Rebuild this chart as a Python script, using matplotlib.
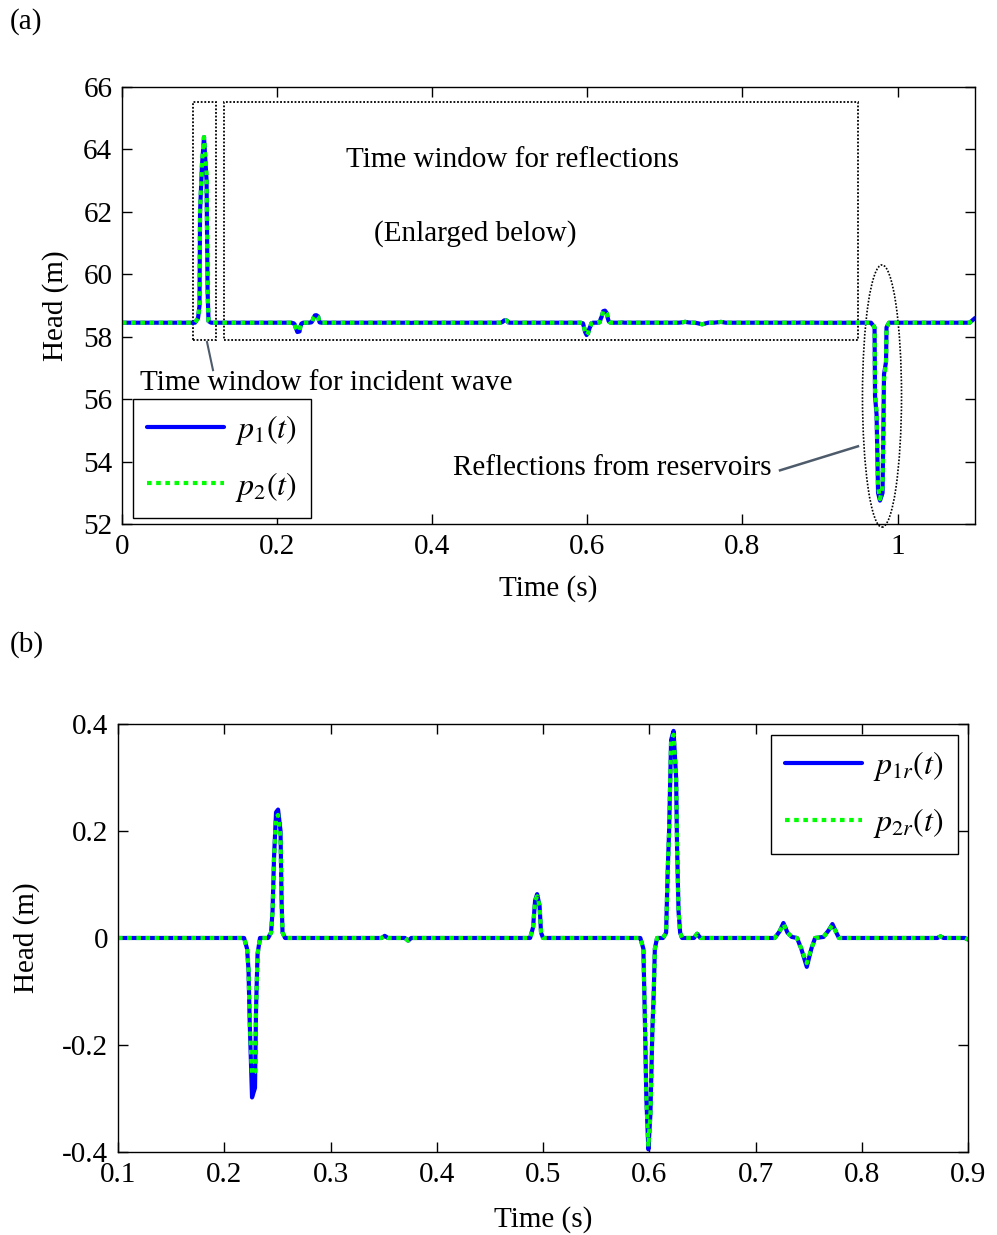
import matplotlib
matplotlib.use("Agg")
import matplotlib.pyplot as plt
from matplotlib.patches import Rectangle, Ellipse

plt.rcParams['font.family'] = ['Liberation Serif', 'DejaVu Serif']
plt.rcParams['mathtext.fontset'] = 'stix'
plt.rcParams['axes.unicode_minus'] = False

# ── Data: reflected head (b) ───────────────────────────────────────────────────
t_r = [0.1000, 0.2186, 0.2214, 0.2228, 0.2238, 0.2261, 0.2289, 0.2299, 0.2313, 0.2336,
       0.2412, 0.2440, 0.2454, 0.2468, 0.2487, 0.2506, 0.2529, 0.2539, 0.2548, 0.2572,
       0.3480, 0.3510, 0.3540, 0.3700, 0.3730, 0.3760,
       0.4878, 0.4906, 0.4925, 0.4944, 0.4967, 0.4981, 0.5000,
       0.5915, 0.5944, 0.5958, 0.5972, 0.5991, 0.6010, 0.6029, 0.6042, 0.6052, 0.6073,
       0.6129, 0.6158, 0.6172, 0.6186, 0.6205, 0.6228, 0.6252, 0.6261, 0.6275, 0.6290, 0.6308,
       0.6420, 0.6450, 0.6480,
       0.7180, 0.7225, 0.7262, 0.7300, 0.7340, 0.7390, 0.7430, 0.7482, 0.7525, 0.7560,
       0.7640, 0.7690, 0.7723, 0.7760, 0.7785,
       0.8710, 0.8740, 0.8770, 0.8970, 0.9000]
p1r = [0.0, 0.0, -0.02, -0.06, -0.15, -0.298, -0.28, -0.13, -0.03, 0.0,
       0.0, 0.01, 0.05, 0.15, 0.235, 0.24, 0.20, 0.07, 0.01, 0.0,
       0.0, 0.004, 0.0, 0.0, -0.005, 0.0,
       0.0, 0.02, 0.07, 0.082, 0.06, 0.01, 0.0,
       0.0, -0.02, -0.15, -0.30, -0.395, -0.33, -0.17, -0.10, -0.02, 0.0,
       0.0, 0.01, 0.12, 0.20, 0.37, 0.387, 0.30, 0.17, 0.05, 0.01, 0.0,
       0.0, 0.008, 0.0,
       0.0, 0.012, 0.028, 0.010, 0.002, 0.0, -0.02, -0.054, -0.02, 0.0,
       0.002, 0.015, 0.026, 0.010, 0.0,
       0.0, 0.003, 0.0, 0.0, -0.003]
p2r = [0.0, 0.0, -0.02, -0.06, -0.15, -0.255, -0.25, -0.13, -0.03, 0.0,
       0.0, 0.01, 0.05, 0.15, 0.225, 0.23, 0.19, 0.07, 0.01, 0.0,
       0.0, 0.004, 0.0, 0.0, -0.005, 0.0,
       0.0, 0.02, 0.07, 0.078, 0.06, 0.01, 0.0,
       0.0, -0.02, -0.15, -0.30, -0.39, -0.33, -0.17, -0.10, -0.02, 0.0,
       0.0, 0.01, 0.12, 0.20, 0.37, 0.38, 0.30, 0.17, 0.05, 0.01, 0.0,
       0.0, 0.008, 0.0,
       0.0, 0.012, 0.026, 0.010, 0.002, 0.0, -0.02, -0.047, -0.02, 0.0,
       0.002, 0.015, 0.024, 0.010, 0.0,
       0.0, 0.003, 0.0, 0.0, -0.003]

# ── Data: full head trace (a) ─────────────────────────────────────────────────
H0 = 58.45
t_inc = [0.0, 0.0941, 0.0980, 0.0999, 0.1006, 0.1031, 0.1057, 0.1090, 0.1103, 0.1115, 0.1148]
p1_inc = [58.45, 58.45, 58.60, 59.00, 62.00, 63.50, 64.40, 63.00, 59.50, 58.50, 58.45]
p2_inc = [58.45, 58.45, 58.60, 59.00, 62.00, 63.60, 64.40, 63.20, 59.50, 58.50, 58.45]
t_res = [0.9658, 0.9704, 0.9710, 0.9730, 0.9749, 0.9774, 0.9807, 0.9826, 0.9852, 0.9858,
         0.9890, 1.0930, 1.1000]
p1_res = [58.45, 58.30, 56.10, 55.50, 53.00, 52.75, 53.00, 56.80, 57.20, 58.30,
          58.45, 58.45, 58.60]
p2_res = [58.45, 58.30, 56.30, 55.60, 53.20, 52.80, 53.20, 56.60, 57.20, 58.30,
          58.45, 58.45, 58.60]

x1_ticks = [0, 0.2, 0.4, 0.6, 0.8, 1.0]
x1_labels = ["0", "0.2", "0.4", "0.6", "0.8", "1"]
y1_ticks = [52, 54, 56, 58, 60, 62, 64, 66]
x2_ticks = [0.1, 0.2, 0.3, 0.4, 0.5, 0.6, 0.7, 0.8, 0.9]
x2_labels = ["0.1", "0.2", "0.3", "0.4", "0.5", "0.6", "0.7", "0.8", "0.9"]
y2_ticks = [-0.4, -0.2, 0, 0.2, 0.4]
y2_labels = ["-0.4", "-0.2", "0", "0.2", "0.4"]

# combine pieces for the full trace
t_full = t_inc + [t for t in t_r if t > 0.12] + t_res
p1_full = p1_inc + [H0 + v for t, v in zip(t_r, p1r) if t > 0.12] + p1_res
p2_full = p2_inc + [H0 + v for t, v in zip(t_r, p2r) if t > 0.12] + p2_res

BLUE = "#0000FF"
GREEN = "#00FF00"
GREY = "#4D5B6B"
FS = 21
DOT = (0, (1.1, 1.1))


def matlab_axes(ax):
    ax.tick_params(direction="in", top=True, right=True, length=7, width=1,
                   labelsize=FS, pad=7)
    for s in ax.spines.values():
        s.set_linewidth(1.0)


def draw(ax, t, a, b, la, lb):
    ax.plot(t, a, color=BLUE, lw=3.0, solid_joinstyle="round",
            solid_capstyle="round", label=la)
    ax.plot(t, b, color=GREEN, lw=3.0, ls=DOT, label=lb)


def legend(ax, **kw):
    leg = ax.legend(fontsize=23, fancybox=False, framealpha=1, edgecolor="k",
                    borderaxespad=0, handlelength=2.4, handletextpad=0.35,
                    labelspacing=0.7, borderpad=0.45, **kw)
    leg.get_frame().set_linewidth(1.0)
    return leg


fig = plt.figure(figsize=(9.97, 12.35), dpi=100)
fig.patch.set_facecolor("white")

# ══════════════════════════════════════════════════════════════════════════════
#  (a)
# ══════════════════════════════════════════════════════════════════════════════
ax1 = fig.add_axes([0.1224, 0.5757, 0.8556, 0.3538])
draw(ax1, t_full, p1_full, p2_full, r"$p_1(t)$", r"$p_2(t)$")
ax1.set_xlim(0, 1.1)
ax1.set_ylim(52, 66)
ax1.set_xticks(x1_ticks)
ax1.set_xticklabels(x1_labels)
ax1.set_yticks(y1_ticks)
matlab_axes(ax1)
ax1.set_xlabel("Time (s)", fontsize=FS, labelpad=11)
ax1.set_ylabel("Head (m)", fontsize=FS, labelpad=10)

# dotted windows
ax1.add_patch(Rectangle((0.0916, 57.89), 0.0296, 7.63, fill=False, ec="k",
                        lw=1.3, ls=(0, (1, 1)), zorder=1))
ax1.add_patch(Rectangle((0.1315, 57.89), 0.8175, 7.63, fill=False, ec="k",
                        lw=1.3, ls=(0, (1, 1)), zorder=1))
ax1.add_patch(Ellipse((0.980, 56.1), 0.0503, 8.4, fill=False, ec="k",
                      lw=1.2, ls=(0, (1, 1)), clip_on=False, zorder=1))

ax1.text(0.503, 63.66, "Time window for reflections", ha="center", va="center", fontsize=FS)
ax1.text(0.455, 61.32, "(Enlarged below)", ha="center", va="center", fontsize=FS)
ax1.text(0.0232, 56.51, "Time window for incident wave", ha="left", va="center", fontsize=FS)
ax1.plot([0.1096, 0.1173], [57.83, 56.93], color=GREY, lw=1.5)
ax1.text(0.632, 53.79, "Reflections from reservoirs", ha="center", va="center", fontsize=FS)
ax1.plot([0.8485, 0.949], [53.72, 54.49], color=GREY, lw=1.8)

legend(ax1, loc="lower left", bbox_to_anchor=(0.0129, 0.0137))

fig.text(10 / 997, 1 - 22 / 1235, "(a)", ha="left", va="center", fontsize=FS)

# ══════════════════════════════════════════════════════════════════════════════
#  (b)
# ══════════════════════════════════════════════════════════════════════════════
ax2 = fig.add_axes([0.1184, 0.0672, 0.8526, 0.3466])
draw(ax2, t_r, p1r, p2r, r"$p_{1r}(t)$", r"$p_{2r}(t)$")
ax2.set_xlim(0.1, 0.9)
ax2.set_ylim(-0.4, 0.4)
ax2.set_xticks(x2_ticks)
ax2.set_xticklabels(x2_labels)
ax2.set_yticks(y2_ticks)
ax2.set_yticklabels(y2_labels)
matlab_axes(ax2)
ax2.set_xlabel("Time (s)", fontsize=FS, labelpad=13)
ax2.set_ylabel("Head (m)", fontsize=FS, labelpad=16)

legend(ax2, loc="upper right", bbox_to_anchor=(0.988, 0.974))

fig.text(10 / 997, 1 - 645 / 1235, "(b)", ha="left", va="center", fontsize=FS)

plt.savefig("out.png", dpi=100, facecolor=fig.get_facecolor())
print("Saved: out.png")
